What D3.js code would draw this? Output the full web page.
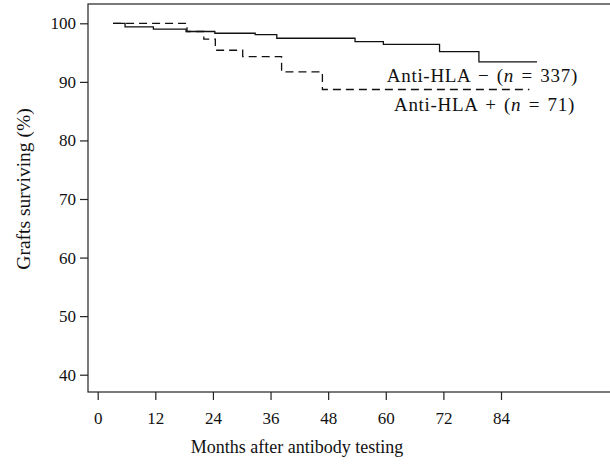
<!DOCTYPE html>
<html>
<head>
<meta charset="utf-8">
<script src="https://cdn.jsdelivr.net/npm/d3@7"></script>
<style>
  html, body { margin: 0; padding: 0; background: #fff; }
  svg { display: block; }
  text { font-family: "Liberation Serif", "DejaVu Serif", serif; fill: #111; }
</style>
</head>
<body>
<svg id="chart" width="610" height="465"></svg>
<script>
// Data (months, % surviving)
const negTimes = [3.2, 5.7, 11.6, 18.4, 24.4, 32.8, 37.3, 53.6, 59.5, 71.2, 79.4, 91.5];
const negSurv  = [100, 99.4, 99.0, 98.6, 98.3, 98.05, 97.45, 96.86, 96.4, 95.15, 93.4, 93.4];
const posTimes = [3.2, 18.6, 22.1, 24.5, 30.2, 38.3, 46.8, 89.9];
const posSurv  = [100, 98.6, 97.3, 95.4, 94.3, 91.7, 88.7, 88.7];
const xTicks = [0, 12, 24, 36, 48, 60, 72, 84];
const yTicks = [40, 50, 60, 70, 80, 90, 100];
const seriesLabels = ["Anti-HLA \u2212 (", "n", " = 337)", "Anti-HLA + (", "n", " = 71)"];

const svg = d3.select("#chart");
const frame = { left: 88, top: 4, bottom: 392, right: 630 };

const x = d3.scaleLinear().domain([0, 84]).range([97.7, 501]);
const y = d3.scaleLinear().domain([40, 100]).range([374.7, 23.3]);

// Frame
svg.append("rect")
  .attr("x", frame.left).attr("y", frame.top)
  .attr("width", frame.right - frame.left).attr("height", frame.bottom - frame.top)
  .attr("fill", "none").attr("stroke", "#222").attr("stroke-width", 1.2);

// X axis
const xAxis = svg.append("g")
  .attr("transform", `translate(0,${frame.bottom})`)
  .call(d3.axisBottom(x).tickValues(xTicks).tickSize(8).tickPadding(12).tickSizeOuter(0));
xAxis.select(".domain").remove();
xAxis.selectAll(".tick line").attr("stroke", "#222").attr("stroke-width", 1.2);
xAxis.selectAll(".tick text").style("font-size", "17px")
  .style("font-family", "'Liberation Serif', serif").attr("fill", "#111");

// Y axis
const yAxis = svg.append("g")
  .attr("transform", `translate(${frame.left},0)`)
  .call(d3.axisLeft(y).tickValues(yTicks).tickSize(8).tickPadding(4).tickSizeOuter(0));
yAxis.select(".domain").remove();
yAxis.selectAll(".tick line").attr("stroke", "#222").attr("stroke-width", 1.2);
yAxis.selectAll(".tick text").style("font-size", "17px")
  .style("font-family", "'Liberation Serif', serif").attr("fill", "#111");

// Axis titles
svg.append("text")
  .attr("x", 297).attr("y", 453)
  .attr("text-anchor", "middle")
  .style("font-size", "18px")
  .text("Months after antibody testing");

svg.append("text")
  .attr("transform", "translate(30,189) rotate(-90)")
  .attr("text-anchor", "middle")
  .style("font-size", "19.5px")
  .text("Grafts surviving (%)");

// Curves
const line = d3.line()
  .x(d => x(d[0])).y(d => y(d[1]))
  .curve(d3.curveStepAfter);

const negData = negTimes.map((t, i) => [t, negSurv[i]]);
const posData = posTimes.map((t, i) => [t, posSurv[i]]);

svg.append("path")
  .attr("d", line(negData))
  .attr("fill", "none").attr("stroke", "#111").attr("stroke-width", 1.3);

svg.append("path")
  .attr("d", line(posData))
  .attr("fill", "none").attr("stroke", "#111").attr("stroke-width", 1.3)
  .attr("stroke-dasharray", "8,5");

// Series labels
function label(xPos, yPos, parts) {
  const t = svg.append("text")
    .attr("x", xPos).attr("y", yPos)
    .attr("text-anchor", "end")
    .style("font-size", "19px")
    .style("word-spacing", "2px")
    .style("letter-spacing", "0.7px");
  t.append("tspan").text(parts[0]);
  t.append("tspan").style("font-style", "italic").text(parts[1]);
  t.append("tspan").text(parts[2]);
}
label(578, 82, seriesLabels.slice(0, 3));
label(575, 111, seriesLabels.slice(3, 6));
</script>
</body>
</html>
